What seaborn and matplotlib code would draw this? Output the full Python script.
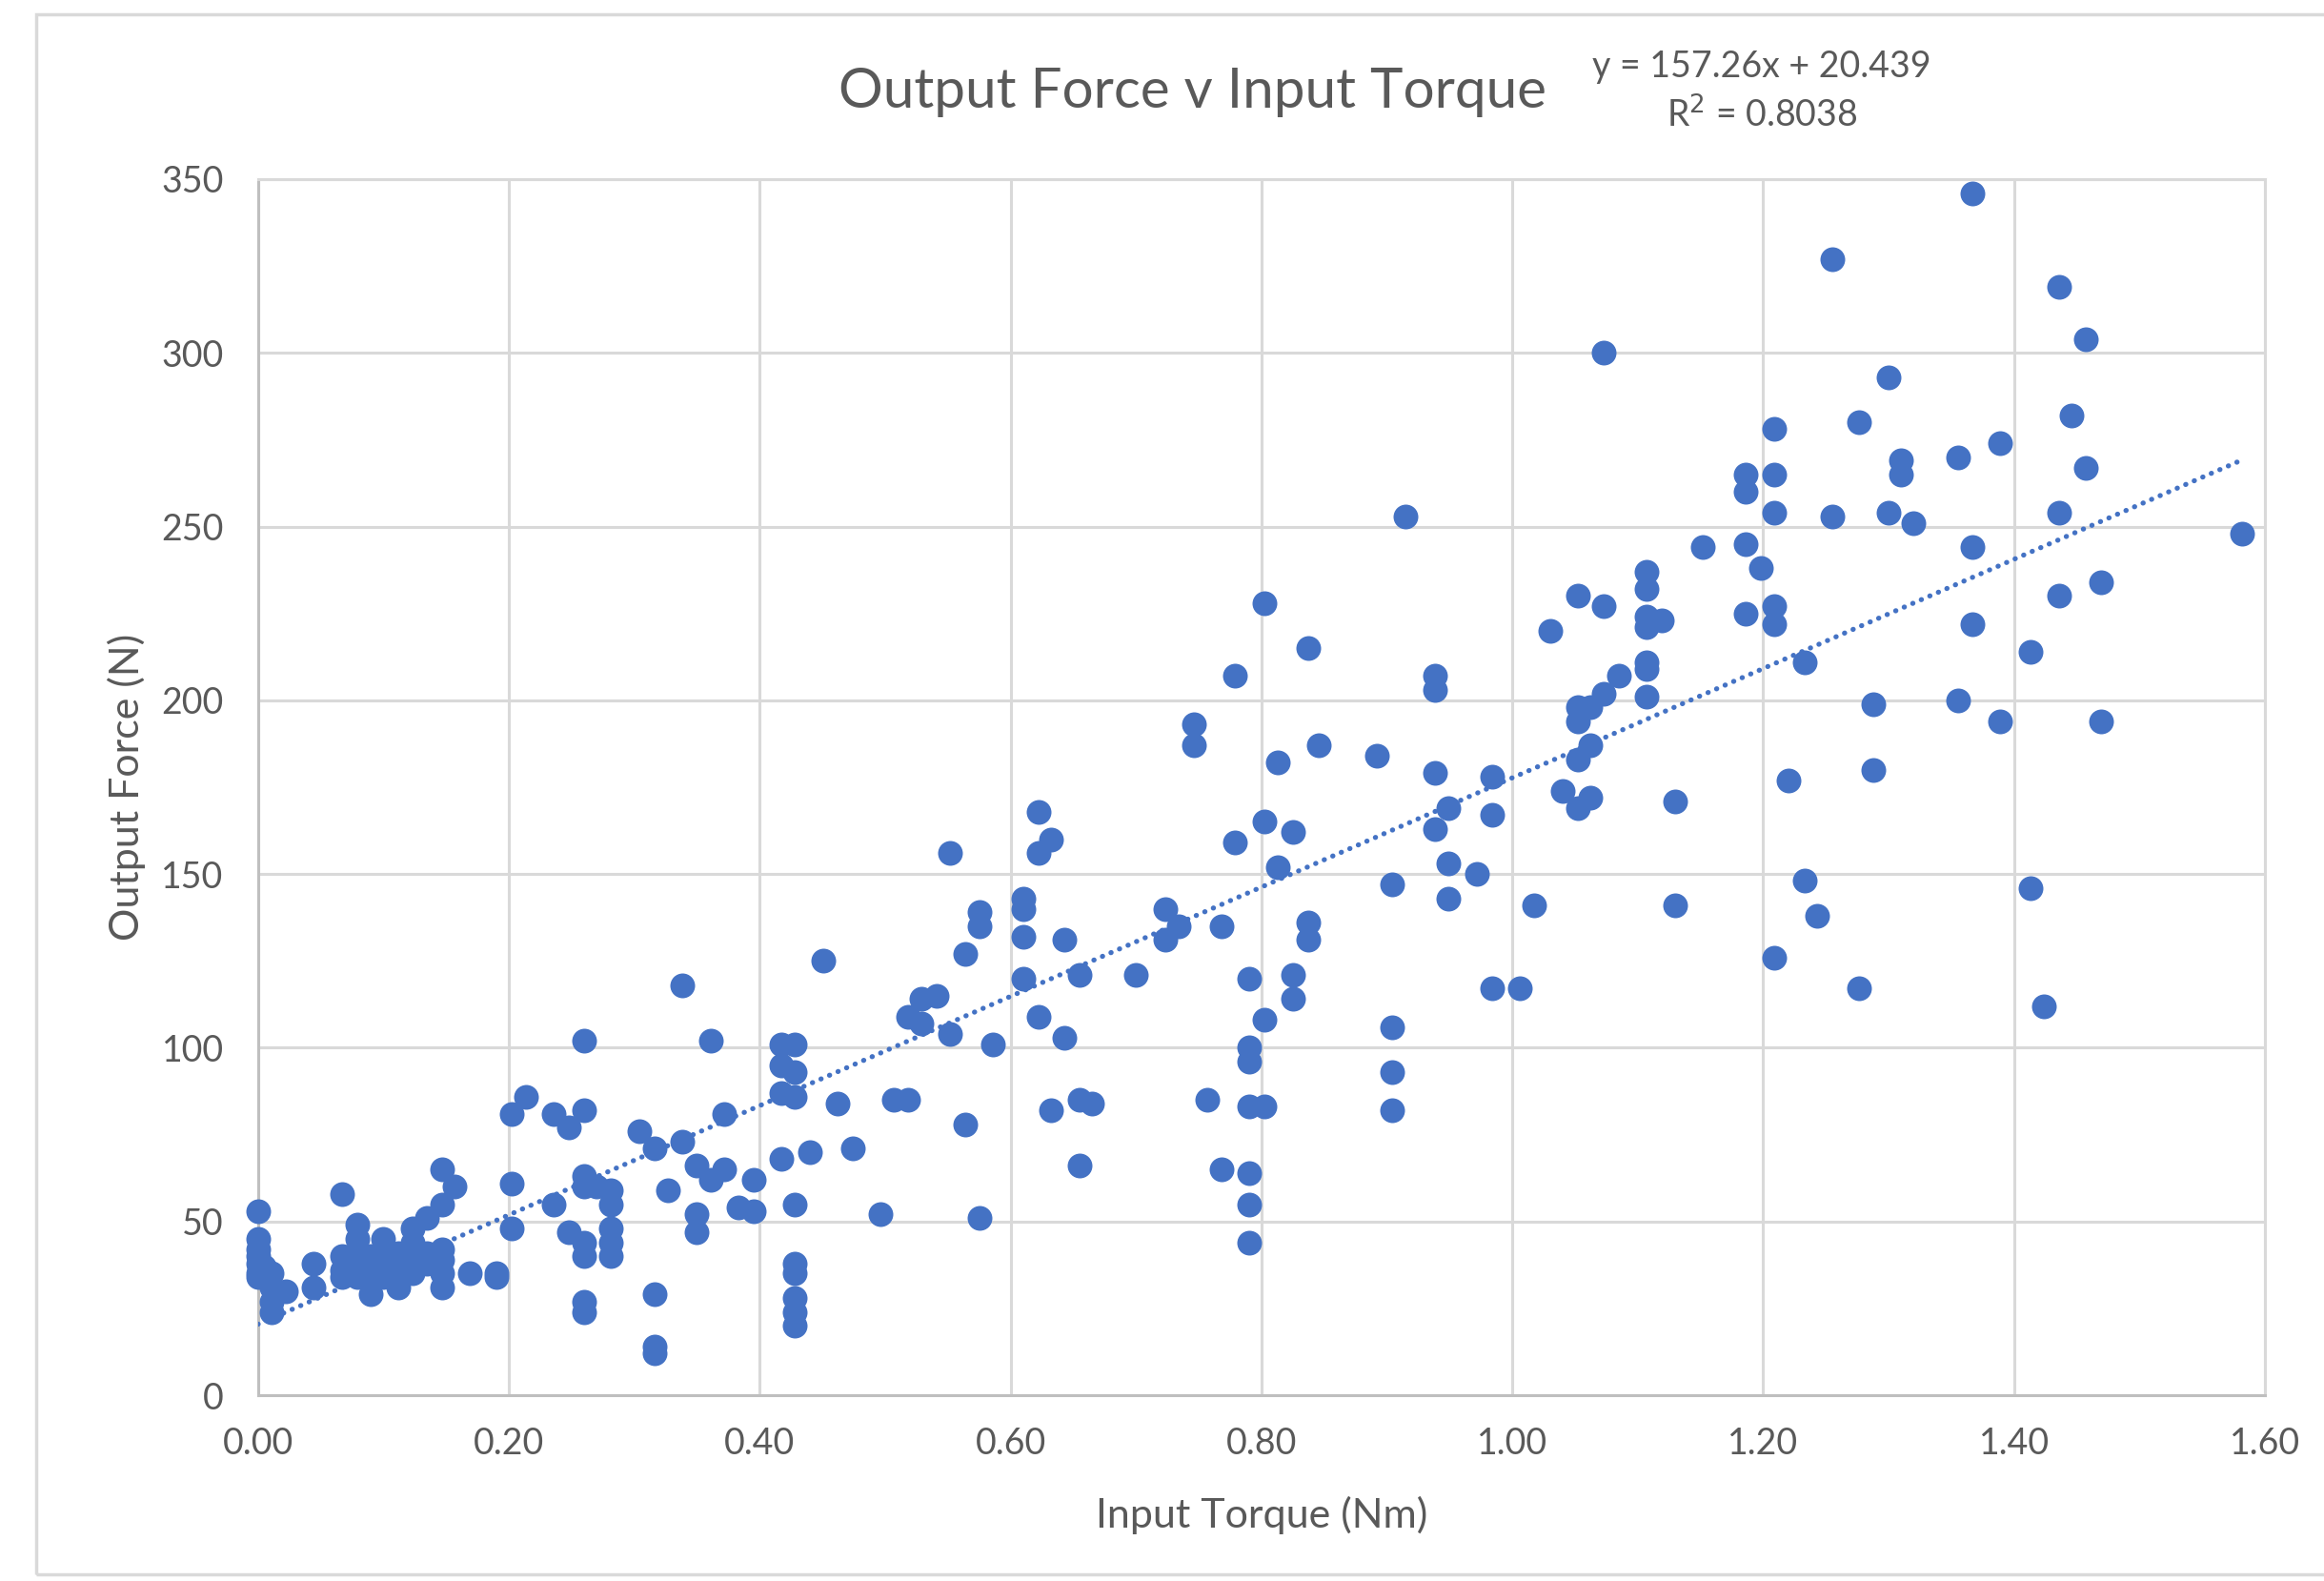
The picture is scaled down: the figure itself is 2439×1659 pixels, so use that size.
import numpy as np
import pandas as pd
import matplotlib.pyplot as plt
import matplotlib.ticker as mticker
from matplotlib.patches import Rectangle
import seaborn as sns

# Input torque steps (Nm) and the output forces (N) read at each step
torque_steps = [0.000, 0.005, 0.011, 0.022, 0.044, 0.067, 0.079, 0.090, 0.100, 0.112,
                0.123, 0.135, 0.147, 0.157, 0.169, 0.190, 0.202, 0.214, 0.236, 0.248,
                0.260, 0.270, 0.281, 0.304, 0.316, 0.327, 0.338, 0.350, 0.361, 0.372,
                0.383, 0.395, 0.417, 0.428, 0.440, 0.451, 0.462, 0.474, 0.496, 0.507,
                0.518, 0.529, 0.541, 0.552, 0.564, 0.575, 0.586, 0.610, 0.622, 0.632,
                0.643, 0.655, 0.665, 0.700, 0.723, 0.734, 0.746, 0.757, 0.768, 0.779,
                0.790, 0.802, 0.813, 0.825, 0.837, 0.846, 0.892, 0.904, 0.915, 0.938,
                0.949, 0.972, 0.984, 1.006, 1.017, 1.030, 1.040, 1.052, 1.062, 1.073,
                1.085, 1.107, 1.119, 1.130, 1.152, 1.186, 1.198, 1.209, 1.220, 1.233,
                1.243, 1.255, 1.276, 1.288, 1.300, 1.310, 1.320, 1.355, 1.367, 1.389,
                1.413, 1.424, 1.436, 1.446, 1.457, 1.469, 1.582]
force_at_step = [
    [53, 45, 42, 40, 38, 35, 34], [37], [35, 31, 27, 24], [30], [38, 31],
    [58, 40, 36, 34], [49, 45, 41, 36, 34], [40, 34, 29], [45, 40, 34], [41, 35, 31],
    [48, 44, 39, 35], [51, 41, 38], [65, 55, 42, 39, 35, 31], [60], [35],
    [35, 34], [81, 61, 48], [86], [81, 55], [77, 47],
    [102, 82, 63, 60, 44, 40, 27, 24], [60], [59, 55, 48, 44, 40], [76], [71, 29, 14, 12],
    [59], [118, 73], [66, 52, 47], [102, 62], [81, 65],
    [54], [62, 53], [101, 95, 87, 68], [101, 93, 86, 55, 38, 35, 28, 24, 20], [70],
    [125], [84], [71], [52], [85],
    [109, 85], [114, 107], [115], [156, 104], [127, 78],
    [139, 135, 51], [101], [143, 140, 132, 120], [168, 156, 109], [160, 82],
    [131, 103], [121, 85, 66], [84], [121], [140, 131],
    [135], [193, 187], [85], [135, 65], [207, 159],
    [120, 100, 96, 83, 64, 55, 44], [228, 165, 108, 83], [182, 152], [162, 121, 114], [215, 136, 131],
    [187], [184], [147, 106, 93, 82], [253], [207, 203, 179, 163],
    [169, 153, 143], [150], [178, 167, 117], [117], [141],
    [220], [174], [230, 198, 194, 183, 169], [198, 187, 172], [300, 227, 202],
    [207], [237, 232, 224, 221, 211, 209, 201], [223], [171, 141], [244],
    [265, 260, 245, 225], [238], [278, 265, 254, 227, 222, 126], [177], [211, 148],
    [138], [327, 253], [280, 117], [199, 180], [293, 254],
    [269, 265], [251], [270, 200], [346, 244, 222], [274, 194],
    [214, 146], [112], [319, 254, 230], [282], [304, 267],
    [234, 194], [248],
]

# linear trendline shown on the chart
slope = 157.26
intercept = 20.439
r_squared = 0.8038

df = pd.DataFrame({"torque": torque_steps, "force": force_at_step}).explode("force")
df["force"] = df["force"].astype(float)

blue = "#4472C4"
grey_text = "#595959"
grid_col = "#d9d9d9"

sns.set_style("whitegrid")
plt.rcParams["font.family"] = ["Lato", "DejaVu Sans"]

fig = plt.figure(figsize=(24.39, 16.59), dpi=100)
ax = fig.add_axes([0.111, 0.1175, 0.8636, 0.7692])

sns.scatterplot(data=df, x="torque", y="force", color=blue, s=350,
                linewidth=0, ax=ax, clip_on=False, zorder=3)

# dotted trendline over the data range
xs = np.array([df["torque"].min(), df["torque"].max()])
ax.plot(xs, slope * xs + intercept, color=blue, lw=3.8,
        linestyle=(0, (0.05, 1.8)), dash_capstyle="round", zorder=4)

ax.set_xlim(0, 1.6)
ax.set_ylim(0, 350)
ax.xaxis.set_major_locator(mticker.MultipleLocator(0.2))
ax.yaxis.set_major_locator(mticker.MultipleLocator(50))
ax.xaxis.set_major_formatter(mticker.FormatStrFormatter("%.2f"))
ax.grid(color=grid_col, lw=2.2)
for side, sp in ax.spines.items():
    sp.set_color(grid_col)
    sp.set_linewidth(2.2)
ax.spines["bottom"].set_color("#bfbfbf")
ax.spines["left"].set_color("#bfbfbf")
ax.tick_params(axis="both", labelsize=27, labelcolor=grey_text, length=0)
ax.tick_params(axis="x", pad=24)
ax.tick_params(axis="y", pad=26)

ax.set_xlabel("Input Torque (Nm)", fontsize=31, color=grey_text, labelpad=26)
ax.set_ylabel("Output Force (N)", fontsize=31, color=grey_text, labelpad=12)

fig.text(0.513, 0.942, "Output Force v Input Torque", fontsize=42,
         color=grey_text, ha="center", va="center")
fig.text(0.758, 0.958, f"y = {slope}x + {intercept}", fontsize=27,
         color=grey_text, ha="center", va="center")
fig.text(0.758, 0.927, f"R$^2$ = {r_squared}", fontsize=27,
         color=grey_text, ha="center", va="center")

# chart area border
fig.patches.append(Rectangle((0.0156, 0.004), 1.0, 0.987, transform=fig.transFigure,
                             fill=False, edgecolor=grid_col, lw=2.5))

fig.savefig("out.png", dpi=100)
